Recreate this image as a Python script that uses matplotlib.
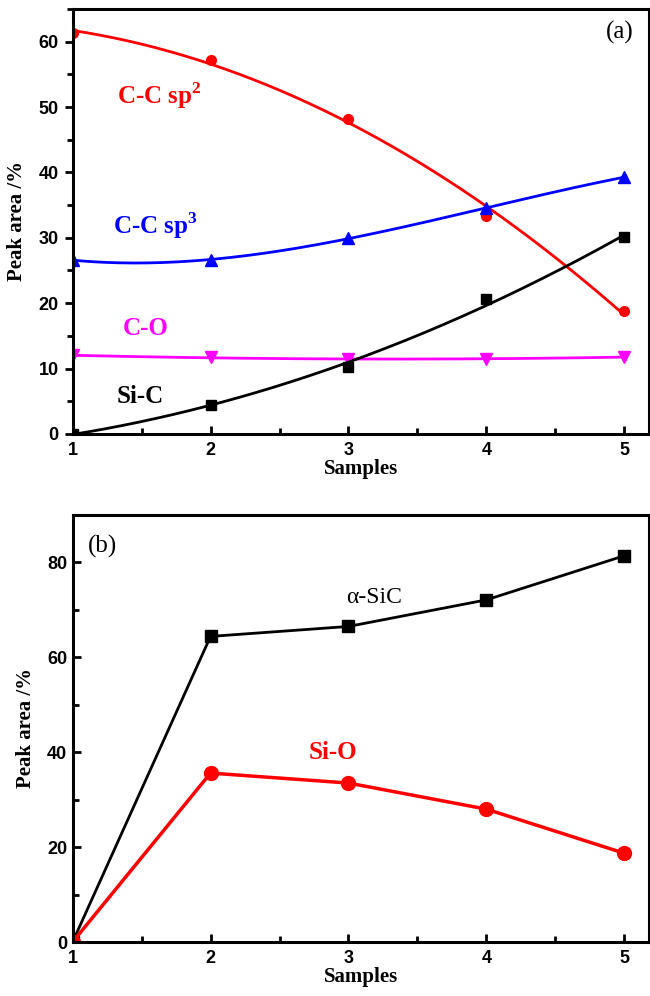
import numpy as np
import matplotlib
matplotlib.use("Agg")
import matplotlib.pyplot as plt
from matplotlib.ticker import MultipleLocator

# panel (a)
samples = [1, 2, 3, 4, 5]
cc_sp2 = [61.3, 57.2, 48.2, 33.4, 18.8]
cc_sp3 = [26.6, 26.6, 30.0, 34.5, 39.3]
c_o = [12.0, 11.7, 11.5, 11.4, 11.8]
si_c = [0.0, 4.5, 10.2, 20.6, 30.1]

# panel (b)
a_sic = [0.0, 64.4, 66.5, 72.1, 81.4]
si_o = [0.0, 35.6, 33.5, 28.0, 18.7]

serif = "Liberation Serif"
sans = "Liberation Sans"

plt.rcParams['mathtext.fontset'] = 'custom'
plt.rcParams['mathtext.rm'] = 'Liberation Serif'
plt.rcParams['mathtext.bf'] = 'Liberation Serif:bold'

fig = plt.figure(figsize=(6.5, 9.96), dpi=100)
ax1 = fig.add_axes([0.1117, 0.5643, 0.887, 0.4267])
ax2 = fig.add_axes([0.1117, 0.0542, 0.887, 0.4288])


def style(ax, ymax, ymaj, ymin, ydir):
    ax.set_xlim(1, 5.18)
    ax.set_ylim(0, ymax)
    ax.xaxis.set_major_locator(MultipleLocator(1))
    ax.xaxis.set_minor_locator(MultipleLocator(0.5))
    ax.yaxis.set_major_locator(MultipleLocator(ymaj))
    ax.yaxis.set_minor_locator(MultipleLocator(ymin))
    for s in ax.spines.values():
        s.set_linewidth(2.2)
    ax.tick_params(axis='x', which='both', direction='in', width=2, pad=6)
    ax.tick_params(axis='y', which='both', direction=ydir, width=2, pad=4)
    ax.tick_params(which='major', length=6)
    ax.tick_params(which='minor', length=4)
    for lab in ax.get_xticklabels() + ax.get_yticklabels():
        lab.set_fontfamily(sans)
        lab.set_fontweight('bold')
        lab.set_fontsize(13)
    ax.set_xlabel('Samples', fontfamily=serif, fontweight='bold', fontsize=15, labelpad=0)
    ax.set_ylabel('Peak area /%', fontfamily=serif, fontweight='bold', fontsize=15, labelpad=8)


xs = np.linspace(1, 5, 200)

# fitted curves through the measured points
ax1.plot(xs, np.polyval(np.polyfit(samples, cc_sp2, 2), xs), color='#ff0000', lw=2)
ax1.plot(samples, cc_sp2, 'o', color='#ff0000', ms=7)
ax1.plot(xs, np.polyval(np.polyfit(samples, cc_sp3, 3), xs), color='#0000ff', lw=2)
ax1.plot(samples, cc_sp3, '^', color='#0000ff', ms=8)
ax1.plot(xs, np.polyval(np.polyfit(samples, c_o, 2), xs), color='#ff00ff', lw=2)
ax1.plot(samples, c_o, 'v', color='#ff00ff', ms=8)
ax1.plot(xs, np.polyval(np.polyfit(samples, si_c, 2), xs), color='black', lw=2)
ax1.plot(samples, si_c, 's', color='black', ms=7)

ax1.text(1.32, 51.8, 'C-C sp$^{\\mathbf{2}}$', color='#ff0000', fontfamily=serif,
         fontweight='bold', fontsize=18, va='center')
ax1.text(1.29, 31.9, 'C-C sp$^{\\mathbf{3}}$', color='#0000ff', fontfamily=serif,
         fontweight='bold', fontsize=18, va='center')
ax1.text(1.36, 16.2, 'C-O', color='#ff00ff', fontfamily=serif,
         fontweight='bold', fontsize=18, va='center')
ax1.text(1.32, 5.7, 'Si-C', color='black', fontfamily=serif,
         fontweight='bold', fontsize=18, va='center')
ax1.text(4.97, 61.4, '(a)', color='black', fontfamily=serif, fontsize=18,
         ha='center', va='center')
style(ax1, 65, 10, 5, 'out')

ax2.plot(samples, a_sic, 's-', color='black', lw=2, ms=9)
ax2.plot(samples, si_o, 'o-', color='#ff0000', lw=2.5, ms=10)
ax2.text(2.98, 72.7, '\u03b1-SiC', color='black', fontfamily=serif,
         fontsize=17, va='center')
ax2.text(2.71, 39.9, 'Si-O', color='#ff0000', fontfamily=serif,
         fontweight='bold', fontsize=18, va='center')
ax2.text(1.11, 83.4, '(b)', color='black', fontfamily=serif, fontsize=18, va='center')
style(ax2, 90, 20, 10, 'in')

fig.savefig('out.png', dpi=100)
